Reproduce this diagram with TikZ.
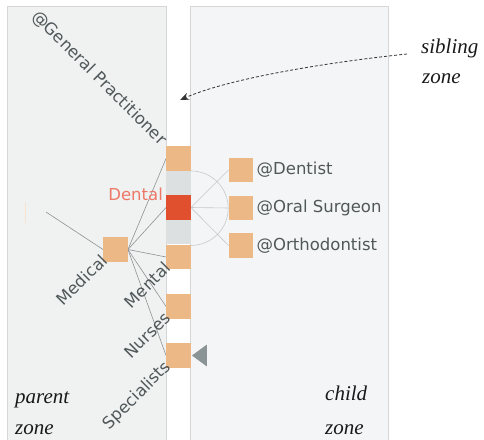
\documentclass[tikz,border=0pt]{standalone}
\usepackage{fontspec}
\setsansfont{DejaVu Sans}
\newfontfamily\zonefont{Liberation Serif}
\usetikzlibrary{arrows.meta}

\definecolor{leftzone}{HTML}{F0F1F1}
\definecolor{rightzone}{HTML}{F4F5F6}
\definecolor{zoneline}{HTML}{D4D6D7}
\definecolor{boxorange}{HTML}{ECB886}
\definecolor{boxred}{HTML}{E0502E}
\definecolor{boxgray}{HTML}{DDE0E1}
\definecolor{tipgray}{HTML}{8A9497}
\definecolor{labgray}{HTML}{50585A}
\definecolor{labred}{HTML}{EE7868}
\definecolor{linkgray}{HTML}{8F9394}
\definecolor{childlink}{HTML}{C6C8C9}

\tikzset{
  box/.style={rectangle,inner sep=0pt,minimum size=24.5pt,fill=boxorange},
  lab/.style={font=\sffamily\fontsize{16.5}{18}\selectfont,text=labgray,inner sep=0pt},
  zonelab/.style={font=\zonefont\itshape\fontsize{21}{23}\selectfont,text=black!90,inner sep=0pt,anchor=base west},
}

\begin{document}
\begin{tikzpicture}[x=1pt,y=-1pt]
      \useasboundingbox (0,0) rectangle (484,439);

      % zones
      \filldraw[fill=leftzone,draw=zoneline,line width=.8pt] (7,6) rectangle (166,445);
      \filldraw[fill=rightzone,draw=zoneline,line width=.8pt] (190,6) rectangle (388,445);

      \begin{scope}[every node/.style={box}]
        \node (gp)    at (178.5,158.5) {};
        \node[fill=boxgray] (g1) at (178.5,183) {};
        \node[fill=boxred] (dental) at (178.5,207.5) {};
        \node[fill=boxgray] (g2) at (178.5,232) {};
        \node (mental) at (178.5,257) {};
        \node (nurses) at (178.5,306.5) {};
        \node (spec)   at (178.5,355.5) {};
        \node (medical) at (115.5,249.5) {};
        \node (dentist) at (241,170) {};
        \node (oral)    at (241,208) {};
        \node (ortho)   at (241,245.5) {};
      \end{scope}

      \coordinate (up) at (46,212);
      \coordinate (stubtop) at (25,202);
      \coordinate (stubend) at (25,223);

      \begin{scope}[every edge/.style={draw=linkgray,line width=.6pt}]
        \path (up) edge (medical.west);
        \path (medical.east) edge (gp.west);
        \path (medical.east) edge (dental.west);
        \path (medical.east) edge (mental.west);
        \path (medical.east) edge (nurses.west);
        \path (medical.east) edge (spec.west);
      \end{scope}
      \draw[boxorange!40,line width=.6pt] (stubtop) -- (stubend);

      \begin{scope}[every edge/.style={draw=childlink,line width=.6pt}]
        \path (dental.east) edge (dentist.west);
        \path (dental.east) edge (oral.west);
        \path (dental.east) edge (ortho.west);
      \end{scope}
      \draw[childlink,line width=.6pt] (gp.south east) arc[start angle=-90,end angle=90,radius=37.25];

      % redraw boxes over the links
      \begin{scope}[every node/.style={box}]
        \node at (gp) {};
        \node[fill=boxred] at (dental) {};
        \node at (mental) {};
        \node at (nurses) {};
        \node at (spec) {};
        \node at (medical) {};
      \end{scope}

      \fill[tipgray] ([xshift=1pt]spec.east) -- ++(15,-11) -- ++(0,22) -- cycle;

      \begin{scope}[every node/.style={lab}]
        \node[right=3pt] at (dentist.east) {@Dentist};
        \node[right=3pt] at (oral.east) {@Oral Surgeon};
        \node[right=3pt] at (ortho.east) {@Orthodontist};
        \node[text=labred,anchor=base east] at ([xshift=-3pt,yshift=7pt]dental.west) {Dental};
        \node[rotate=-45,anchor=base east] at ([xshift=-6pt]gp.north west) {@General Practitioner};
        \node[rotate=45,anchor=base east] at ([xshift=5.5pt]medical.south west) {Medical};
        \node[rotate=45,anchor=base east] at ([xshift=5.5pt]mental.south west) {Mental};
        \node[rotate=45,anchor=base east] at ([xshift=5.5pt]nurses.south west) {Nurses};
        \node[rotate=45,anchor=base east] at ([xshift=5.5pt]spec.south west) {Specialists};
      \end{scope}

      % zone names
      \node[zonelab] (parent) at (15,403) {parent};
      \node[zonelab] at (15,434) {zone};
      \node[zonelab] (child) at (325,400) {child};
      \node[zonelab] at (325,434) {zone};
      \node[zonelab] (sibling) at (421,53) {sibling};
      \node[zonelab] at (422,83) {zone};

      \coordinate (sibtail) at (407,54);
      \coordinate (gap) at (180,100);
      \draw[black!80,line width=.8pt,dash pattern=on 3pt off 2pt,-{Stealth[length=9pt,width=7pt]}]
        (sibtail) .. controls (330,62) and (230,78) .. (gap);

    \end{tikzpicture}
\end{document}
